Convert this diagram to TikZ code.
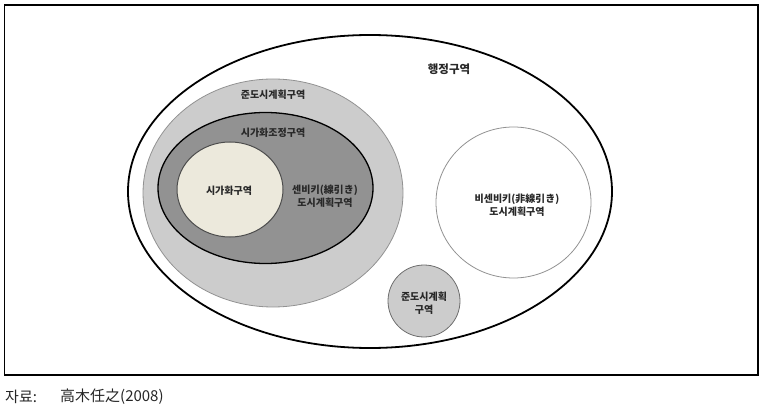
\documentclass[tikz,border=0pt]{standalone}
\usepackage{fontspec}
\setmainfont{Noto Sans CJK KR}
\usetikzlibrary{shapes.geometric}
\definecolor{lightg}{RGB}{204,204,204}
\definecolor{darkg}{RGB}{146,146,146}
\definecolor{creamc}{RGB}{236,233,220}
\definecolor{edgeg}{RGB}{110,110,110}
\definecolor{txtc}{RGB}{40,40,40}
\begin{document}
\begin{tikzpicture}[x=1pt,y=-1pt,
  lbl/.style={font=\bfseries\fontsize{10}{12.5}\selectfont, text=txtc, align=center, inner sep=0pt},
  captxt/.style={font=\fontsize{15}{17}\selectfont, text=black!85, anchor=west, inner sep=0pt}]
\useasboundingbox (0,0) rectangle (772,417);
% frame
\draw[line width=1.4pt] (4.5,5) rectangle (758,375);
% administrative ellipse
\draw[line width=1.8pt] (370,191.5) ellipse [x radius=242, y radius=156.5];
% quasi-urban outer
\draw[fill=lightg, draw=darkg, line width=0.8pt] (273,193) ellipse [x radius=130, y radius=114];
% urbanization control
\draw[fill=darkg, draw=black, line width=1.3pt] (265.5,188) ellipse [x radius=107.5, y radius=75.5];
% urbanization area
\draw[fill=creamc, draw=black!70, line width=1pt] (230,189.5) ellipse [x radius=53, y radius=47.5];
% non-senbiki
\draw[fill=white, draw=darkg, line width=0.8pt] (513.5,202.5) ellipse [x radius=77.5, y radius=75.5];
% small quasi circle
\draw[fill=lightg, draw=edgeg, line width=0.8pt] (424,301) circle [radius=36];
% labels
\node[lbl, font=\bfseries\fontsize{11.5}{13}\selectfont] (admin) at (449,69) {행정구역};
\node[lbl] (quasi) at (273,95) {준도시계획구역};
\node[lbl] (ctrl) at (273,133) {시가화조정구역};
\node[lbl] (urban) at (229,191) {시가화구역};
\node[lbl] (senbiki) at (325,196) {센비키(線引き)\\도시계획구역};
\node[lbl] (nonsen) at (517,205) {비센비키(非線引き)\\도시계획구역};
\node[lbl] (quasi2) at (424,303) {준도시계획\\구역};
% caption
\node[captxt] (src) at (5,397) {자료:};
\node[captxt] (ref) at (60,397) {高木任之(2008)};
\end{tikzpicture}
\end{document}
